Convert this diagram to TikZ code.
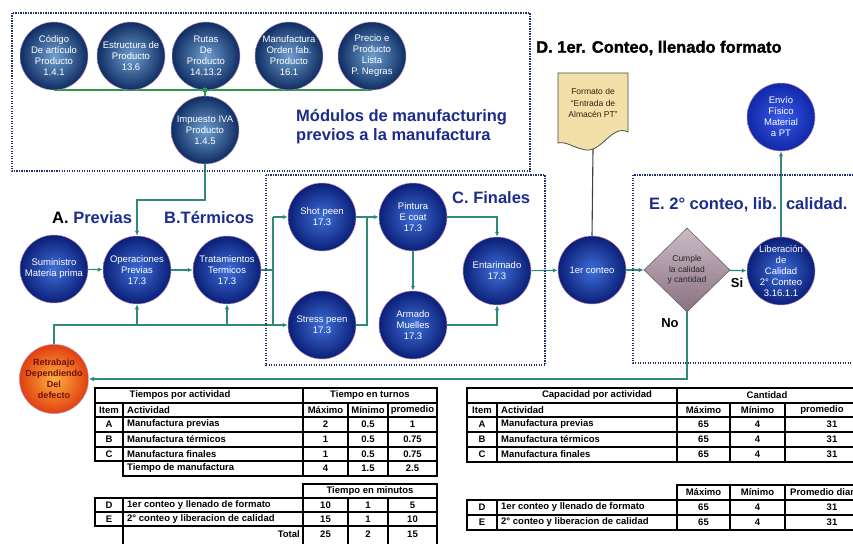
\documentclass[tikz,border=0pt]{standalone}
\usepackage{fontspec}
\setmainfont{Liberation Sans}
\usetikzlibrary{arrows.meta,shapes.geometric}
\pgfdeclarelayer{bg}
\pgfsetlayers{bg,main}

\definecolor{navytext}{HTML}{1B2C8C}
\definecolor{conn}{HTML}{2F8A7A}
\definecolor{busgreen}{HTML}{2E9A48}
\definecolor{dotcol}{HTML}{22306A}
\definecolor{topin}{HTML}{6F9FD0}
\definecolor{topout}{HTML}{0F2D62}
\definecolor{midin}{HTML}{3F6FD8}
\definecolor{midout}{HTML}{0B1F78}
\definecolor{envin}{HTML}{3A5AE8}
\definecolor{envout}{HTML}{1028A8}
\definecolor{retin}{HTML}{FFB040}
\definecolor{retout}{HTML}{E04010}
\definecolor{rettext}{HTML}{701010}
\definecolor{diatop}{HTML}{CBBCC6}
\definecolor{diabot}{HTML}{8A7080}
\definecolor{docfill}{HTML}{F3E0A8}
\definecolor{halo}{HTML}{B890C0}

\begin{document}
\begin{tikzpicture}[x=1pt,y=-1pt,
  bub/.style={circle, minimum size=68pt, inner sep=0pt, align=center, text=white,
    draw=halo, line width=0.5pt, font=\fontsize{9.5}{11}\selectfont},
  topbub/.style={bub, shade, inner color=topin, outer color=topout},
  midbub/.style={bub, shade, inner color=midin, outer color=midout},
  envbub/.style={bub, shade, inner color=envin, outer color=envout},
  retbub/.style={bub, shade, inner color=retin, outer color=retout, text=rettext,
    font=\fontsize{9}{11}\selectfont\bfseries},
  decide/.style={diamond, minimum width=86pt, minimum height=84pt, inner sep=0pt,
    align=center, shade, top color=diatop, bottom color=diabot, draw=black!60,
    line width=0.6pt, text=black!85, font=\fontsize{8.5}{10.5}\selectfont},
  link/.style={draw=conn, line width=1.1pt},
  bus/.style={draw=busgreen, line width=1.6pt},
  arr/.style={link, -{Latex[length=5pt,width=4.5pt]}},
  frame/.style={draw=dotcol, line width=1.7pt, dash pattern=on 1.3pt off 1.2pt},
  lab/.style={anchor=west, inner sep=0pt, text=navytext,
    font=\fontsize{16.5}{19}\selectfont\bfseries},
  tl/.style={line width=1.3pt, black},
  tc/.style={inner sep=0pt, font=\fontsize{9.5}{10}\selectfont\bfseries}
]
\useasboundingbox (0,0) rectangle (853,543);
\begin{pgfonlayer}{bg}
  \fill[white] (0,0) rectangle (853,543);
\end{pgfonlayer}
\clip (0,0) rectangle (853,543);

% ---------- dotted group frames ----------
\draw[frame] (12,13) rectangle (530,171);
\draw[frame] (266,175) rectangle (545,365);
\draw[frame] (633,175) rectangle (880,363);

% ---------- prior modules ----------
\node[topbub] (cod) at (54,56) {Código\\De artículo\\Producto\\1.4.1};
\node[topbub] (est) at (131,56) {Estructura de\\Producto\\13.6};
\node[topbub] (rut) at (206,56) {Rutas\\De\\Producto\\14.13.2};
\node[topbub] (man) at (289,56) {Manufactura\\Orden fab.\\Producto\\16.1};
\node[topbub] (pre) at (372,56) {Precio e\\Producto\\Lista\\P. Negras};
\node[topbub] (iva) at (205,130) {Impuesto IVA\\Producto\\1.4.5};
\coordinate (jn) at (205,90);

\node[lab, align=left] (mod) at (296,127) {Módulos de manufacturing\\previos a la manufactura};

% ---------- process flow ----------
\node[midbub] (sum) at (54,269) {Suministro\\Materia prima};
\node[midbub] (ope) at (137,270) {Operaciones\\Previas\\17.3};
\node[midbub] (tra) at (227,270) {Tratamientos\\Termicos\\17.3};
\node[midbub] (sho) at (322,217) {Shot peen\\17.3};
\node[midbub] (str) at (322,325) {Stress peen\\17.3};
\node[midbub] (pin) at (413,217) {Pintura\\E coat\\17.3};
\node[midbub] (arm) at (413,325) {Armado\\Muelles\\17.3};
\node[midbub] (ent) at (497,271) {Entarimado\\17.3};
\node[midbub] (con) at (592,270) {1er conteo};
\node[decide] (cum) at (687,270) {Cumple\\la calidad\\y cantidad};
\node[midbub] (lib) at (781,271) {Liberación\\de\\Calidad\\2° Conteo\\3.16.1.1};
\node[envbub] (env) at (781,117) {Envío\\Físico\\Material\\a PT};
\node[retbub] (ret) at (54,379) {Retrabajo\\Dependiendo\\Del\\defecto};

% document symbol
\draw[fill=docfill, draw=black!70, line width=0.8pt]
  (558,73) -- (628,73) -- (628,132)
  .. controls (612,124) and (602,152) .. (586,150)
  .. controls (574,148) and (566,141) .. (558,143) -- cycle;
\node[align=center, inner sep=0pt, text=black!75!brown,
  font=\fontsize{8.5}{11.5}\selectfont] (doc) at (593,103)
  {Formato de\\“Entrada de\\Almacén PT”};
\coordinate (docb) at (593,149);

% section titles
\node[lab] (la) at (52,218) {\color{black}A. \color{navytext}Previas};
\node[lab] (lb) at (164,218) {B.Térmicos};
\node[lab] (lc) at (452,198) {C. Finales};
\node[lab, text=black, font=\fontsize{16.5}{19}\selectfont\bfseries\addfontfeature{FakeBold=1.6}]
  (ld) at (536,48) {D. 1er. Conteo, llenado formato};
\node[lab] (le) at (649,205) {E. 2° conteo, lib.\ \ calidad.};
\node[inner sep=0pt, font=\fontsize{13}{14}\selectfont\bfseries] (si) at (737,283) {Si};
\node[inner sep=0pt, font=\fontsize{13}{14}\selectfont\bfseries] (no) at (670,323) {No};

% ---------- connectors ----------
\coordinate (k1) at (205,200);
\coordinate (spt) at (273,217);
\coordinate (spb) at (273,325);
\coordinate (sp) at (273,270);
\coordinate (fb) at (54,325);
\coordinate (mt) at (367,217);
\coordinate (mb) at (367,325);
\coordinate (nob) at (687,379);
\begin{pgfonlayer}{bg}
  \draw[bus] (cod.south) -- (pre.south);
  \draw[bus] (jn) -- (iva.north);
  \draw[arr] (iva.south) -- (k1) -| (ope.north);
  \draw[arr] (sum) -- (ope);
  \draw[arr] (ope) -- (tra);
  \draw[link] (tra.east) -- (sp);
  \draw[link] (spt) -- (spb);
  \draw[arr] (spt) -- (sho);
  \draw[arr] (spb) -- (str);
  \draw[link] (ret.north) -- (fb) -- (spb);
  \draw[arr] (ope.south |- fb) -- (ope.south);
  \draw[arr] (tra.south |- fb) -- (tra.south);
  \draw[link] (sho.east) -- (mt);
  \draw[link] (str.east) -- (mb) -- (mt);
  \draw[arr] (mt) -- (pin);
  \draw[arr] (pin) -- (arm);
  \draw[arr] (pin.east) -| (ent.north);
  \draw[arr] (arm.east) -| (ent.south);
  \draw[arr] (ent) -- (con);
  \draw[black!75, line width=1.1pt] (docb) -- (con.north);
  \draw[arr] (con) -- (cum);
  \draw[arr] (cum) -- (lib);
  \draw[arr] (lib) -- (env);
  \draw[arr] (cum.south) -- (nob) -- (ret);
\end{pgfonlayer}
\fill[busgreen] (jn) circle (2.6);

% ---------- time table ----------
\draw[tl] (95,388) rectangle (437,461);
\foreach \y in {403,417,432,447} \draw[tl] (95,\y) -- (437,\y);
\draw[tl] (303,388) -- (303,476);
\foreach \x in {123,348,388} \draw[tl] (\x,403) -- (\x,476);
\draw[tl] (123,461) -- (123,476) -- (437,476) -- (437,461);
\draw[tl] (303,484) rectangle (437,498);
\draw[tl] (95,498) rectangle (437,526);
\draw[tl] (95,512) -- (437,512);
\foreach \x in {123,303,348,388,437} \draw[tl] (\x,498) -- (\x,545);

\node[tc] (th1) at (180,395.5) {Tiempos por actividad};
\node[tc] (th2) at (370,395.5) {Tiempo en turnos};
\node[tc] (th3) at (109,410) {Item};
\node[tc, anchor=west] (th4) at (127,410) {Actividad};
\node[tc] (th5) at (325.5,410) {Máximo};
\node[tc] (th6) at (368,410) {Mínimo};
\node[tc] (th7) at (412.5,410) {promedio};
\foreach \n/\t/\y/\a/\b/\c in {
    A/Manufactura previas/424.5/2/0.5/1,
    B/Manufactura térmicos/439.5/1/0.5/0.75,
    C/Manufactura finales/454/1/0.5/0.75,
    D/1er conteo y llenado de formato/505/10/1/5,
    E/2° conteo y liberacion de calidad/519/15/1/10} {
  \node[tc] (ti\n) at (109,\y) {\n};
  \node[tc, anchor=west] (tt\n) at (127,\y) {\t};
  \node[tc] (tx\n) at (325.5,\y) {\a};
  \node[tc] (tn\n) at (368,\y) {\b};
  \node[tc] (tp\n) at (412.5,\y) {\c};
}
\node[tc, anchor=west] (tmt) at (127,468.5) {Tiempo de manufactura};
\node[tc] (tmx) at (325.5,468.5) {4};
\node[tc] (tmn) at (368,468.5) {1.5};
\node[tc] (tmp) at (412.5,468.5) {2.5};
\node[tc] (tmh) at (370,491) {Tiempo en minutos};
\node[tc, anchor=east] (ttt) at (300,534.5) {Total};
\node[tc] (ttx) at (325.5,534.5) {25};
\node[tc] (ttn) at (368,534.5) {2};
\node[tc] (ttp) at (412.5,534.5) {15};

% ---------- capacity table ----------
\draw[tl] (467,388) rectangle (880,462);
\foreach \y in {403,417,432,447} \draw[tl] (467,\y) -- (880,\y);
\draw[tl] (677,388) -- (677,462);
\foreach \x in {497,730,785} \draw[tl] (\x,403) -- (\x,462);
\draw[tl] (677,485) rectangle (880,500);
\foreach \x in {730,785} \draw[tl] (\x,485) -- (\x,530);
\draw[tl] (467,500) rectangle (880,530);
\draw[tl] (467,515) -- (880,515);
\foreach \x in {497,677} \draw[tl] (\x,500) -- (\x,530);

\node[tc] (ch1) at (597,395.5) {Capacidad por actividad};
\node[tc] (ch2) at (767,395.5) {Cantidad};
\node[tc] (ch3) at (482,410) {Item};
\node[tc, anchor=west] (ch4) at (501,410) {Actividad};
\node[tc] (ch5) at (703.5,410) {Máximo};
\node[tc] (ch6) at (757.5,410) {Mínimo};
\node[tc] (ch7) at (822,410) {promedio};
\node[tc] (ch8) at (703.5,492.5) {Máximo};
\node[tc] (ch9) at (757.5,492.5) {Mínimo};
\node[tc, anchor=west] (ch10) at (790,492.5) {Promedio diario};
\foreach \n/\t/\y in {
    A/Manufactura previas/424.5,
    B/Manufactura térmicos/439.5,
    C/Manufactura finales/454.5,
    D/1er conteo y llenado de formato/507.5,
    E/2° conteo y liberacion de calidad/522.5} {
  \node[tc] (ci\n) at (482,\y) {\n};
  \node[tc, anchor=west] (ct\n) at (501,\y) {\t};
  \node[tc] (cx\n) at (703.5,\y) {65};
  \node[tc] (cn\n) at (757.5,\y) {4};
  \node[tc] (cp\n) at (832,\y) {31};
}
\end{tikzpicture}
\end{document}
